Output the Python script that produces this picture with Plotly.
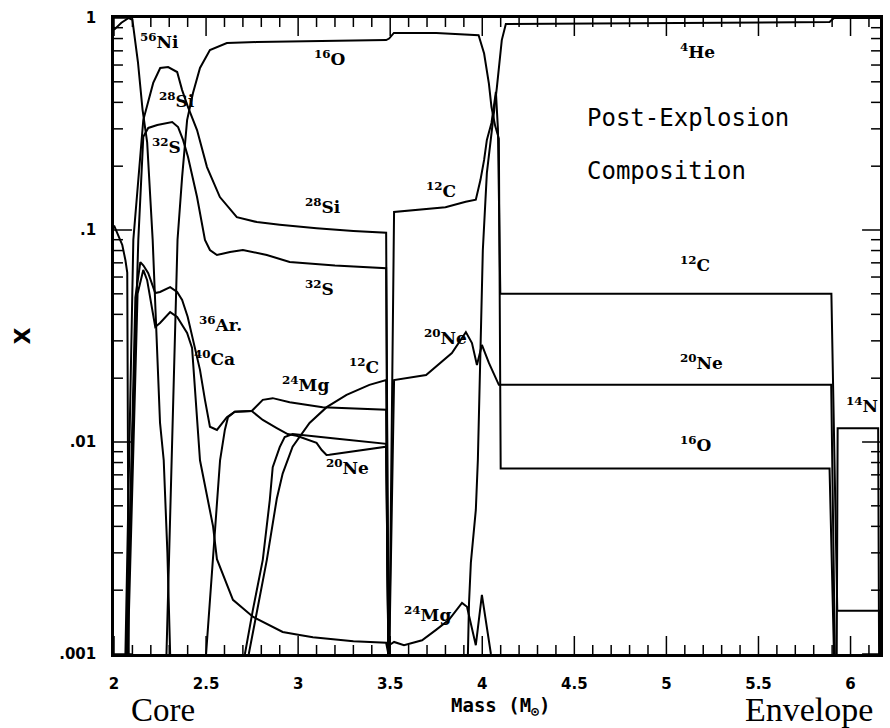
import numpy as np
import plotly.graph_objects as go

# ---- abundance profiles: mass coordinate (Msun) and mass fraction X ----
ni56_m = [2.00, 2.04, 2.08, 2.10, 2.13, 2.155, 2.18, 2.21, 2.25, 2.27, 2.29, 2.305]
ni56_x = [0.88, 0.95, 1.00, 0.98, 0.62, 0.37, 0.26, 0.09, 0.0123, 0.0082, 0.003, 0.001]

he4_inner_m = [2.00, 2.024, 2.045, 2.062, 2.072, 2.08]
he4_inner_x = [0.105, 0.093, 0.085, 0.072, 0.063, 0.001]

si28_m = [2.062, 2.105, 2.159, 2.213, 2.251, 2.294, 2.343, 2.37, 2.402, 2.451, 2.505,
          2.575, 2.667, 2.776, 2.90, 3.10, 3.30, 3.478, 3.49]
si28_x = [0.001, 0.09, 0.33, 0.494, 0.581, 0.587, 0.556, 0.457, 0.38, 0.296, 0.198,
          0.143, 0.115, 0.109, 0.106, 0.102, 0.099, 0.097, 0.001]

s32_m = [2.066, 2.132, 2.159, 2.186, 2.235, 2.316, 2.348, 2.375, 2.402, 2.451, 2.494,
         2.521, 2.559, 2.63, 2.70, 2.83, 2.954, 3.2, 3.478, 3.49]
s32_x = [0.001, 0.09, 0.275, 0.303, 0.313, 0.323, 0.306, 0.266, 0.221, 0.143, 0.0897,
         0.0805, 0.0762, 0.0787, 0.0805, 0.0762, 0.0706, 0.068, 0.066, 0.001]

ar36_m = [2.07, 2.116, 2.143, 2.16, 2.186, 2.224, 2.25, 2.305, 2.343, 2.37, 2.40, 2.43,
          2.467, 2.494, 2.521, 2.559, 2.613, 2.656, 2.748]
ar36_x = [0.001, 0.048, 0.0706, 0.068, 0.0626, 0.0504, 0.051, 0.0538, 0.051, 0.0468, 0.039,
          0.0303, 0.0219, 0.0158, 0.0118, 0.0114, 0.0131, 0.0139, 0.0140]

ca40_m = [2.075, 2.128, 2.159, 2.18, 2.224, 2.25, 2.305, 2.343, 2.397, 2.424, 2.467, 2.538,
          2.559, 2.646, 2.754, 2.916, 3.008, 3.08, 3.30, 3.478, 3.49]
ca40_x = [0.001, 0.05, 0.0648, 0.058, 0.0349, 0.0364, 0.041, 0.0389, 0.0327, 0.0278, 0.0082,
          0.0040, 0.0028, 0.0018, 0.0015, 0.00127, 0.00123, 0.0012, 0.00115, 0.00113, 0.001]

o16_m = [2.285, 2.30, 2.32, 2.345, 2.37, 2.397, 2.429, 2.467, 2.521, 2.613, 2.776, 3.0,
         3.478, 3.494, 3.52, 3.75, 3.98, 4.01, 4.036, 4.05, 4.07, 4.09, 4.10, 5.886, 5.91]
o16_x = [0.001, 0.003, 0.012, 0.09, 0.178, 0.33, 0.443, 0.581, 0.706, 0.762, 0.77, 0.775,
         0.787, 0.80, 0.85, 0.85, 0.83, 0.68, 0.49, 0.38, 0.31, 0.27, 0.0075, 0.0075, 0.001]

c12_m = [2.732, 2.776, 2.83, 2.884, 2.916, 2.97, 3.008, 3.062, 3.155, 3.263, 3.387, 3.478,
         3.49, 3.495, 3.521, 3.62, 3.80, 3.91, 3.965, 3.99, 4.01, 4.025, 4.05, 4.074,
         4.085, 4.098, 5.896, 5.928, 6.155, 6.16]
c12_x = [0.001, 0.00161, 0.00278, 0.0054, 0.0071, 0.0095, 0.0106, 0.0123, 0.0146, 0.0167,
         0.0186, 0.0196, 0.001, 0.001, 0.1216, 0.124, 0.128, 0.136, 0.139, 0.172, 0.214,
         0.266, 0.32, 0.448, 0.30, 0.05, 0.05, 0.0016, 0.0016, 0.001]

ne20_m = [2.748, 2.808, 2.884, 2.943, 2.992, 3.10, 3.128, 3.154, 3.17, 3.478, 3.49, 3.495,
          3.521, 3.695, 3.835, 3.884, 3.911, 3.944, 3.971, 3.998, 4.036, 4.09, 5.895, 5.915]
ne20_x = [0.014, 0.0127, 0.01164, 0.0109, 0.0107, 0.0099, 0.00917, 0.00869, 0.0087, 0.0095,
          0.001, 0.001, 0.0196, 0.0207, 0.0263, 0.0303, 0.033, 0.0293, 0.0231, 0.0287,
          0.0236, 0.0186, 0.0186, 0.001]

mg24_m = [2.50, 2.538, 2.576, 2.602, 2.619, 2.656, 2.748, 2.808, 2.862, 2.954, 3.133, 3.478,
          3.49, 3.494, 3.521, 3.575, 3.673, 3.749, 3.819, 3.89, 3.917, 3.965, 3.998, 4.047]
mg24_x = [0.001, 0.0028, 0.0082, 0.0114, 0.0131, 0.0139, 0.0140, 0.0158, 0.0161, 0.0154,
          0.0146, 0.0142, 0.001, 0.0011, 0.00114, 0.0011, 0.00116, 0.0013, 0.00145, 0.00174,
          0.00167, 0.0011, 0.0019, 0.001]

minor_m = [2.711, 2.754, 2.808, 2.846, 2.862, 2.90, 2.927, 2.97, 3.2, 3.478, 3.49]
minor_x = [0.001, 0.00161, 0.00278, 0.00532, 0.0076, 0.00946, 0.01056, 0.0109, 0.0104,
           0.0098, 0.001]

he4_m = [3.922, 3.928, 3.938, 3.965, 3.976, 4.003, 4.025, 4.052, 4.079, 4.106, 4.128,
         5.886, 5.91, 6.16]
he4_x = [0.001, 0.00174, 0.00269, 0.00478, 0.0082, 0.080, 0.186, 0.287, 0.468, 0.787,
         0.937, 0.957, 1.0, 1.0]

n14_m = [5.925, 5.93, 6.15, 6.155]
n14_x = [0.001, 0.0116, 0.0116, 0.001]

# ---- axis ticks ----
x_tick_vals = [2, 2.5, 3, 3.5, 4, 4.5, 5, 5.5, 6]
x_tick_text = ["2", "2.5", "3", "3.5", "4", "4.5", "5", "5.5", "6"]
y_tick_vals = [0.001, 0.01, 0.1, 1]
y_tick_text = [".001", ".01", ".1", "1"]

# ---- curve labels: (text, mass, X) ----
label_text = ["<sup>56</sup>Ni", "<sup>28</sup>Si", "<sup>32</sup>S", "<sup>16</sup>O",
              "<sup>28</sup>Si", "<sup>12</sup>C", "<sup>32</sup>S", "<sup>36</sup>Ar.",
              "<sup>40</sup>Ca", "<sup>24</sup>Mg", "<sup>12</sup>C", "<sup>20</sup>Ne",
              "<sup>20</sup>Ne", "<sup>24</sup>Mg", "<sup>4</sup>He", "<sup>12</sup>C",
              "<sup>20</sup>Ne", "<sup>16</sup>O", "<sup>14</sup>N"]
label_m = [2.132, 2.235, 2.197, 3.074, 3.024, 3.684, 3.024, 2.451, 2.424, 2.90, 3.268,
           3.143, 3.673, 3.565, 5.063, 5.063, 5.063, 5.063, 5.966]
label_x = [0.78, 0.41, 0.249, 0.648, 0.130, 0.154, 0.0532, 0.036, 0.0249, 0.0188, 0.0228,
           0.0076, 0.0313, 0.00154, 0.699, 0.069, 0.0238, 0.0098, 0.01495]

curves = [
    (ni56_m, ni56_x), (he4_inner_m, he4_inner_x), (si28_m, si28_x), (s32_m, s32_x),
    (ar36_m, ar36_x), (ca40_m, ca40_x), (o16_m, o16_x), (c12_m, c12_x),
    (ne20_m, ne20_x), (mg24_m, mg24_x), (minor_m, minor_x), (he4_m, he4_x),
    (n14_m, n14_x),
]

X_RANGE = (2.0, 6.16)
LOG_RANGE = (-3.0, 0.0)
MARGIN = dict(l=114, r=7, t=18, b=74)
W, H = 890, 728
PLOT_W = W - MARGIN["l"] - MARGIN["r"]
PLOT_H = H - MARGIN["t"] - MARGIN["b"]

fig = go.Figure()
for m, xfrac in curves:
    fig.add_trace(go.Scatter(x=m, y=xfrac, mode="lines",
                             line=dict(color="black", width=2),
                             showlegend=False, hoverinfo="skip"))

label_font = dict(family="DejaVu Serif", size=17, color="black", weight="bold")
for t, m, v in zip(label_text, label_m, label_x):
    fig.add_annotation(x=m, y=np.log10(v), text=t, showarrow=False,
                       xanchor="left", yanchor="middle", font=label_font)

title_font = dict(family="DejaVu Sans Mono", size=24, color="black")
fig.add_annotation(x=4.56, y=np.log10(0.337), text="Post-Explosion", showarrow=False,
                   xanchor="left", yanchor="middle", font=title_font)
fig.add_annotation(x=4.56, y=np.log10(0.19), text="Composition", showarrow=False,
                   xanchor="left", yanchor="middle", font=title_font)

# axis titles and region names
fig.add_annotation(xref="paper", yref="paper", x=0.5046, y=-0.082,
                   text="Mass (M<sub>⊙</sub>)", showarrow=False,
                   xanchor="center", yanchor="middle",
                   font=dict(family="DejaVu Sans Mono", size=19, color="black", weight="bold"))
fig.add_annotation(xref="paper", yref="paper", x=0.0637, y=-0.088, text="Core",
                   showarrow=False, xanchor="center", yanchor="middle",
                   font=dict(family="Liberation Serif", size=33, color="black"))
fig.add_annotation(xref="paper", yref="paper", x=0.8205, y=-0.088, text="Envelope",
                   showarrow=False, xanchor="left", yanchor="middle",
                   font=dict(family="Liberation Serif", size=34, color="black"))
fig.add_annotation(xref="paper", yref="paper", x=-0.1196, y=0.5, text="X",
                   showarrow=False, xanchor="center", yanchor="middle", textangle=-90,
                   font=dict(family="DejaVu Sans", size=22, color="black", weight="bold"))

# ---- tick marks on all four sides of the frame (inward) ----
x_minor = [round(v, 2) for v in np.arange(2.1, 6.16, 0.1) if abs(v * 2 - round(v * 2)) > 1e-6]
y_minor = [d * 10.0 ** e for e in (-3, -2, -1) for d in range(2, 10)]

MAJOR_LEN, MINOR_LEN = 18, 9
tick_line = dict(color="black", width=1.5)


def x_paper(v):
    return (v - X_RANGE[0]) / (X_RANGE[1] - X_RANGE[0])


def y_paper(v):
    return (np.log10(v) - LOG_RANGE[0]) / (LOG_RANGE[1] - LOG_RANGE[0])


for vals, length in ((x_tick_vals, MAJOR_LEN), (x_minor, MINOR_LEN)):
    dy = length / PLOT_H
    for v in vals:
        px = x_paper(v)
        fig.add_shape(type="line", xref="paper", yref="paper", x0=px, x1=px,
                      y0=0, y1=dy, line=tick_line)
        fig.add_shape(type="line", xref="paper", yref="paper", x0=px, x1=px,
                      y0=1, y1=1 - dy, line=tick_line)
for vals, length in ((y_tick_vals, MAJOR_LEN), (y_minor, MINOR_LEN)):
    dx = length / PLOT_W
    for v in vals:
        py = y_paper(v)
        fig.add_shape(type="line", xref="paper", yref="paper", x0=0, x1=dx,
                      y0=py, y1=py, line=tick_line)
        fig.add_shape(type="line", xref="paper", yref="paper", x0=1, x1=1 - dx,
                      y0=py, y1=py, line=tick_line)

tick_font = dict(family="DejaVu Sans", size=15, color="black", weight="bold")
fig.update_layout(
    width=W, height=H, margin=MARGIN,
    plot_bgcolor="white", paper_bgcolor="white",
    xaxis=dict(range=list(X_RANGE), tickvals=x_tick_vals, ticktext=x_tick_text,
               ticks="", tickfont=tick_font, ticklabelstandoff=14,
               showline=True, linewidth=2.5, linecolor="black", mirror=True,
               showgrid=False, zeroline=False),
    yaxis=dict(type="log", range=list(LOG_RANGE), tickvals=y_tick_vals,
               ticktext=y_tick_text, ticks="", tickfont=tick_font,
               ticklabelstandoff=12, showline=True, linewidth=2.5, linecolor="black",
               mirror=True, showgrid=False, zeroline=False),
)

fig.write_html("out.html")
